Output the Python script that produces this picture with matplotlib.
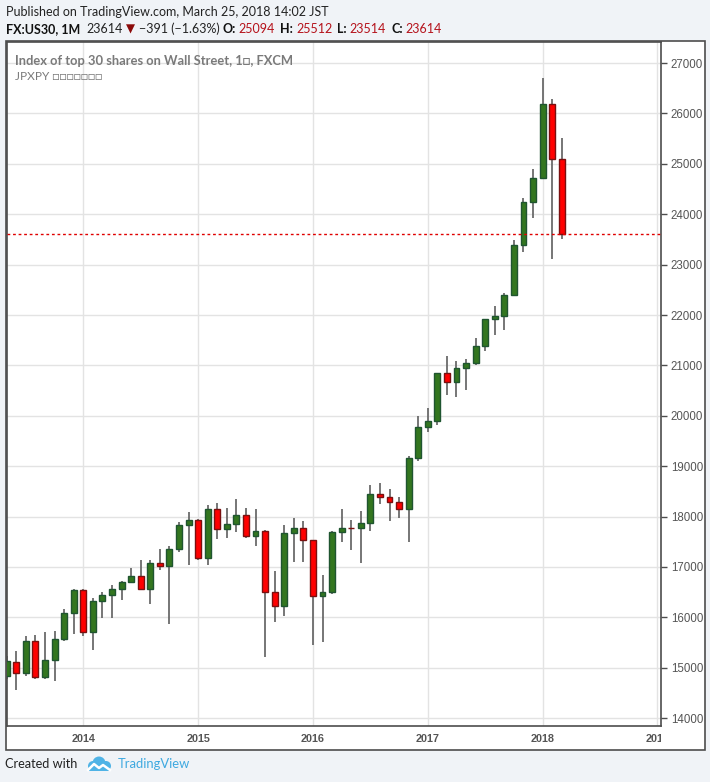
import matplotlib
matplotlib.use("Agg")
import matplotlib.pyplot as plt
from matplotlib.patches import Rectangle, Circle

# monthly candles, FX:US30 (May 2013 .. Mar 2018)
months = ['2013-05', '2013-06', '2013-07', '2013-08', '2013-09', '2013-10', '2013-11', '2013-12',
          '2014-01', '2014-02', '2014-03', '2014-04', '2014-05', '2014-06', '2014-07', '2014-08',
          '2014-09', '2014-10', '2014-11', '2014-12',
          '2015-01', '2015-02', '2015-03', '2015-04', '2015-05', '2015-06', '2015-07', '2015-08',
          '2015-09', '2015-10', '2015-11', '2015-12',
          '2016-01', '2016-02', '2016-03', '2016-04', '2016-05', '2016-06', '2016-07', '2016-08',
          '2016-09', '2016-10', '2016-11', '2016-12',
          '2017-01', '2017-02', '2017-03', '2017-04', '2017-05', '2017-06', '2017-07', '2017-08',
          '2017-09', '2017-10', '2017-11', '2017-12',
          '2018-01', '2018-02', '2018-03']
opens = [14843, 15116, 14898, 15533, 14819, 15156, 15573, 16089,
         16545, 15712, 16327, 16446, 16565, 16704, 16823, 16565,
         17081, 17021, 17358, 17835,
         17934, 17180, 18152, 17755, 17854, 18033, 17616, 17716,
         16505, 16227, 17676, 17775,
         17530, 16426, 16505, 17696, 17782, 17770, 17874, 18450,
         18390, 18291, 18159, 19159,
         19768, 19887, 20841, 20662, 20940, 21040, 21378, 21914,
         21980, 22390, 23384, 24238,
         24715, 26185, 25094]
highs = [15240, 15341, 15639, 15659, 15718, 15738, 16175, 16571,
         16560, 16393, 16505, 16651, 16730, 16981, 17139, 17140,
         17358, 17418, 17894, 18093,
         17945, 18231, 18271, 18172, 18357, 18179, 18159, 17736,
         16929, 17841, 17980, 17914,
         17540, 16843, 17710, 18159, 17934, 18112, 18635, 18675,
         18556, 18397, 19212, 19993,
         20152, 20850, 21185, 21086, 21126, 21543, 21924, 22178,
         22430, 23483, 24324, 24901,
         26709, 26285, 25512]
lows = [14780, 14554, 14832, 14772, 14772, 14733, 15527, 15665,
        15626, 15348, 15983, 15983, 16340, 16677, 16560, 16260,
        16942, 15864, 17299, 17034,
        17134, 17041, 17550, 17570, 17689, 17570, 17411, 15209,
        15903, 16022, 17100, 17100,
        15447, 15507, 16465, 17491, 17332, 17081, 17709, 18245,
        17907, 17967, 17496, 19106,
        19682, 19821, 20417, 20377, 20517, 21000, 21291, 21602,
        21702, 22370, 23258, 23934,
        24700, 23119, 23514]
closes = [15129, 14898, 15533, 14819, 15156, 15573, 16089, 16545,
          15712, 16327, 16446, 16565, 16704, 16823, 16565, 17081,
          17021, 17358, 17835, 17934,
          17180, 18152, 17755, 17854, 18033, 17616, 17716, 16505,
          16227, 17676, 17775, 17530,
          16426, 16505, 17696, 17775, 17770, 17874, 18450, 18390,
          18291, 18152, 19159, 19768,
          19887, 20841, 20662, 20940, 21040, 21378, 21914, 21980,
          22390, 23384, 24238, 24715,
          26185, 25093, 23614]
last_price = 23614
year_ticks = [2014, 2015, 2016, 2017, 2018, 2019]
price_ticks = list(range(14000, 27001, 1000))

W, H = 710, 782


def fx(px):
    return px / W


def fy(py):
    return 1 - py / H


fig = plt.figure(figsize=(W / 100, H / 100), dpi=100, facecolor='#f0f3f7')
renderer = fig.canvas.get_renderer()

# white chart panel with border
fig.add_artist(Rectangle((fx(6), fy(750)), fx(705) - fx(6), fy(41) - fy(750),
                         transform=fig.transFigure, facecolor='white',
                         edgecolor='#4d4d4d', lw=1.2, zorder=0))

ax = fig.add_axes([fx(7), fy(726), fx(661) - fx(7), fy(42) - fy(726)])
ax.set_facecolor('white')

# month index relative to Jan 2014
mi = [(int(s[:4]) - 2014) * 12 + int(s[5:]) - 1 for s in months]

up_fill, up_edge = '#33761f', '#1f5530'
dn_fill, dn_edge = '#ff0000', '#7a1010'
for x, o, h, l, c in zip(mi, opens, highs, lows, closes):
    ax.vlines(x, l, h, color='#6b6b6b', lw=1.3, zorder=2)
    up = c >= o
    ax.bar(x, abs(c - o), bottom=min(o, c), width=0.62,
           color=up_fill if up else dn_fill,
           edgecolor=up_edge if up else dn_edge, lw=1.0, zorder=3)

ax.axhline(last_price, color='#e00000', lw=1.0, ls=(0, (2, 2)), zorder=4)

ax.set_xlim(-7.97, 60.37)
ax.set_ylim(13845, 27417)
ax.set_xticks([(y - 2014) * 12 for y in year_ticks])
ax.set_xticklabels([str(y) for y in year_ticks])
ax.set_yticks(price_ticks)
ax.set_yticklabels([str(p) for p in price_ticks])
ax.grid(True, color='#e3e3e3', lw=1.0, zorder=0)
ax.set_axisbelow(True)
ax.yaxis.tick_right()
ax.tick_params(axis='y', direction='out', length=4, width=1, color='#4d4d4d',
               labelsize=8.3, labelcolor='#555555', pad=3)
ax.tick_params(axis='x', length=0, labelsize=7.8, labelcolor='#555555', pad=6)
for lbl in ax.get_yticklabels():
    lbl.set_family('Liberation Sans')
for lbl in ax.get_xticklabels():
    lbl.set_family('Liberation Sans')
    lbl.set_fontweight('bold')
clip = Rectangle((0, 0), fx(661), 1, transform=fig.transFigure, visible=False)
fig.add_artist(clip)
ax.get_xticklabels()[-1].set_clip_path(clip)
for s in ax.spines.values():
    s.set_color('#4d4d4d')
    s.set_linewidth(1.2)

# legend text inside the chart
fig.text(fx(15), fy(61), 'Index of top 30 shares on Wall Street, 1\u25a1, FXCM',
         family='Lato', fontweight='bold', fontsize=9.25, color='#7a7a7a', va='center')
fig.text(fx(15), fy(77), 'JPXPY \u25a1\u25a1\u25a1\u25a1\u25a1\u25a1\u25a1',
         family=['Lato', 'DejaVu Sans'], fontsize=8.6, color='#7a7a7a', va='center')

# header
fig.text(fx(6), fy(12), 'Published on TradingView.com, March 25, 2018 14:02 JST',
         family='Lato', fontsize=9.0, color='#222222', va='center')
red = '#b5121b'
row = fy(29)
hdr = [('FX:US30, 1M', '#111111', 'bold', 'Lato', 9.0, 6),
       ('23614', '#222222', 'normal', 'Lato', 9.0, 3),
       ('\u25bc', '#8b0a0a', 'normal', 'DejaVu Sans', 8.5, 4),
       ('\u2212391 (\u22121.63%)', '#222222', 'normal', 'Lato', 9.0, 3),
       ('O:', '#111111', 'bold', 'Lato', 9.0, 3),
       ('25094', red, 'normal', 'Lato', 9.0, 5),
       ('H:', '#111111', 'bold', 'Lato', 9.0, 3),
       ('25512', red, 'normal', 'Lato', 9.0, 5),
       ('L:', '#111111', 'bold', 'Lato', 9.0, 3),
       ('23514', red, 'normal', 'Lato', 9.0, 5),
       ('C:', '#111111', 'bold', 'Lato', 9.0, 3),
       ('23614', red, 'normal', 'Lato', 9.0, 0)]
px = 6
for s, col, wt, fam, fs, gap in hdr:
    t = fig.text(fx(px), row, s, family=fam, fontsize=fs, color=col,
                 fontweight=wt, va='center')
    ext = t.get_window_extent(renderer)
    px = ext.x1 + gap

# footer
fig.text(fx(5), fy(764), 'Created with', family='Lato', fontsize=9.2,
         color='#222222', va='center')
fig.text(fx(118), fy(764), 'TradingView', family='Lato', fontsize=9.4,
         color='#3fa9e0', va='center')
lax = fig.add_axes([fx(86), fy(773), fx(26), 18 / H])
lax.set_xlim(0, 26)
lax.set_ylim(0, 18)
lax.axis('off')
blue = '#4fb3e6'
for cx, cy, r in [(7, 7, 5), (13, 10, 6.5), (20, 7, 5)]:
    lax.add_patch(Circle((cx, cy), r, color=blue, lw=0))
lax.add_patch(Rectangle((3, 2), 20, 5, color=blue, lw=0))
lax.plot([2, 8, 13, 17, 24], [3, 9, 5, 8, 3], color='white', lw=1.8)

fig.savefig('out.png', dpi=100, facecolor=fig.get_facecolor())
